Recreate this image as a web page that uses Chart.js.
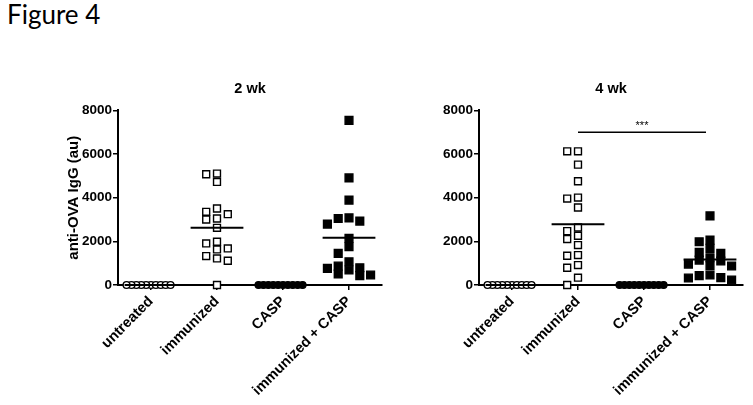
<!DOCTYPE html>
<html>
<head>
<meta charset="utf-8">
<script src="https://cdn.jsdelivr.net/npm/chart.js@4"></script>
<style>
  body { margin: 0; background: #fff; width: 753px; height: 405px; overflow: hidden; position: relative; }
  #fig { position: absolute; left: 7px; top: -2px; font-family: Lato, sans-serif; font-size: 26px; color: #000; }
  .panel { position: absolute; top: 0; height: 405px; }
  #p1 { left: 0; width: 395px; }
  #p2 { left: 395px; width: 358px; }
</style>
</head>
<body>
<div id="fig">Figure 4</div>
<div class="panel" id="p1"><canvas id="c1"></canvas></div>
<div class="panel" id="p2"><canvas id="c2"></canvas></div>
<script>
// Groups and axis
const groups = ['untreated', 'immunized', 'CASP', 'immunized + CASP'];
const yTicks = [0, 2000, 4000, 6000, 8000];

// 2 wk values (au)
const wk2Untreated = [0, 0, 0, 0, 0, 0, 0, 0, 0, 0];
const wk2Immunized = [5105, 5074, 4724, 3504, 3352, 3245, 3047, 3002, 2621, 1981, 1904, 1676, 1630, 1325, 1219, 1112, 0];
const wk2Casp = [0, 0, 0, 0, 0, 0, 0, 0, 0, 0];
const wk2ImmCasp = [7543, 4906, 3886, 3078, 3047, 2926, 2788, 2133, 1752, 1447, 1066, 868, 792, 762, 686, 503, 457, 427];

// 4 wk values (au)
const wk4Untreated = [0, 0, 0, 0, 0, 0, 0, 0, 0, 0];
const wk4Immunized = [6125, 6125, 5515, 4754, 4007, 3961, 3550, 2636, 2468, 2255, 2103, 1828, 1371, 1341, 914, 792, 335, 0];
const wk4Casp = [0, 0, 0, 0, 0, 0, 0, 0, 0, 0];
const wk4ImmCasp = [3170, 2057, 1981, 1676, 1494, 1447, 1250, 1143, 1100, 960, 883, 870, 457, 427, 335, 320, 229];

// significance bars
const wk4Sig = [{ from: 1, to: 3, y: 7000, text: '***' }];

const FONT = "'Liberation Sans', Arial, sans-serif";

// marker look per group: open circle, open square, filled circle, filled square
const markers = [
    { pointStyle: 'circle', radius: 3.4, fill: '#fff' },
    { pointStyle: 'rect', radius: 4.9, fill: '#fff' },
    { pointStyle: 'circle', radius: 3.4, fill: '#000' },
    { pointStyle: 'rect', radius: 5.5, fill: '#000' }
];

function mean(arr) {
    return arr.reduce((a, b) => a + b, 0) / arr.length;
}

function buildDatasets(series) {
    const sets = series.map((vals, gi) => ({
        group: gi,
        data: vals.map(v => ({ x: gi, y: v })),
        pointStyle: markers[gi].pointStyle,
        pointRadius: markers[gi].radius,
        pointHoverRadius: markers[gi].radius,
        pointBackgroundColor: markers[gi].fill,
        pointBorderColor: '#000',
        pointBorderWidth: 1.4,
        showLine: false,
        clip: false,
        order: 1
    }));

    // mean bars
    const meanData = [];
    series.forEach((vals, gi) => {
        const m = mean(vals);
        meanData.push({ x: gi - 0.4, y: m }, { x: gi + 0.4, y: m }, { x: gi + 0.4, y: null });
    });
    sets.push({
        data: meanData,
        showLine: true,
        spanGaps: false,
        borderColor: '#000',
        borderWidth: 2,
        pointRadius: 0,
        clip: false,
        order: 0
    });
    return sets;
}

// spread points sideways so they don't overlap (like a column scatter)
function spreadPoints(chart) {
    const xs = chart.scales.x, ys = chart.scales.y;
    const unit = xs.getPixelForValue(1) - xs.getPixelForValue(0);
    const gapPx = 7.5, slotPx = 10.8, maxWidthPx = 44;
    chart.data.datasets.forEach(ds => {
        if (ds.group === undefined) return;
        const pts = ds.data.map((p, i) => ({ i: i, py: ys.getPixelForValue(p.y) }));
        pts.sort((a, b) => a.py - b.py);
        const placed = [];
        pts.forEach(p => {
            for (let k = 0; k < 40; k++) {
                const slot = k % 2 ? -(k + 1) / 2 : k / 2;
                const hit = placed.some(q => q.slot === slot && Math.abs(q.py - p.py) < gapPx);
                if (!hit) {
                    p.slot = slot;
                    placed.push(p);
                    break;
                }
            }
        });
        const slots = placed.map(p => p.slot);
        const span = Math.max(...slots) - Math.min(...slots);
        const step = span ? Math.min(slotPx, maxWidthPx / span) : slotPx;
        placed.forEach(p => {
            ds.data[p.i].x = ds.group + p.slot * step / unit;
        });
    });
    chart.update('none');
}

const sigPlugin = {
    id: 'sigBars',
    afterDatasetsDraw(chart, args, opts) {
        const items = opts.items || [];
        const ctx = chart.ctx, xs = chart.scales.x, ys = chart.scales.y;
        items.forEach(s => {
            const x1 = xs.getPixelForValue(s.from);
            const x2 = xs.getPixelForValue(s.to) - 4;
            const y = ys.getPixelForValue(s.y);
            ctx.save();
            ctx.strokeStyle = '#000';
            ctx.lineWidth = 1.5;
            ctx.beginPath();
            ctx.moveTo(x1, y);
            ctx.lineTo(x2, y);
            ctx.stroke();
            ctx.fillStyle = '#000';
            ctx.font = '11px ' + FONT;
            ctx.textAlign = 'center';
            ctx.textBaseline = 'bottom';
            ctx.fillText(s.text, (x1 + x2) / 2, y - 1);
            ctx.restore();
        });
    }
};

function makeChart(canvasId, title, yTitle, series, sig, pad, yWidth) {
    const chart = new Chart(document.getElementById(canvasId), {
        type: 'scatter',
        data: { datasets: buildDatasets(series) },
        plugins: [sigPlugin],
        options: {
            responsive: true,
            maintainAspectRatio: false,
            animation: false,
            events: [],
            layout: { padding: pad },
            plugins: {
                legend: { display: false },
                tooltip: { enabled: false },
                title: {
                    display: true,
                    text: title,
                    fullSize: false,
                    color: '#000',
                    font: { family: FONT, size: 14.5, weight: 'bold' },
                    padding: { top: 0, bottom: 13 }
                },
                sigBars: { items: sig }
            },
            scales: {
                x: {
                    type: 'linear',
                    min: -0.5,
                    max: 3.5,
                    afterBuildTicks: scale => {
                        scale.ticks = groups.map((g, i) => ({ value: i }));
                    },
                    afterFit: scale => { scale.height = 120; },
                    border: { display: true, color: '#000', width: 2 },
                    grid: { drawOnChartArea: false, color: '#000', tickLength: 5, lineWidth: 1.5 },
                    ticks: {
                        color: '#000',
                        minRotation: 45,
                        maxRotation: 45,
                        padding: 3,
                        font: { family: FONT, size: 14.5, weight: 'bold' },
                        callback: value => groups[value]
                    }
                },
                y: {
                    min: 0,
                    max: 8000,
                    afterBuildTicks: scale => {
                        scale.ticks = yTicks.map(v => ({ value: v }));
                    },
                    afterFit: scale => { scale.width = yWidth; },
                    border: { display: true, color: '#000', width: 2 },
                    grid: { drawOnChartArea: false, color: '#000', tickLength: 5, lineWidth: 1.5 },
                    title: {
                        display: !!yTitle,
                        text: yTitle,
                        color: '#000',
                        font: { family: FONT, size: 15, weight: 'bold' },
                        padding: { top: 3, bottom: 4 }
                    },
                    ticks: {
                        color: '#000',
                        padding: 1,
                        font: { family: FONT, size: 13.5, weight: 'bold' },
                        callback: value => String(value)
                    }
                }
            }
        }
    });
    spreadPoints(chart);
    return chart;
}

makeChart('c1', '2 wk', 'anti-OVA IgG (au)',
    [wk2Untreated, wk2Immunized, wk2Casp, wk2ImmCasp], [],
    { left: 62, right: 13, top: 80, bottom: 0 }, 56);

makeChart('c2', '4 wk', '',
    [wk4Untreated, wk4Immunized, wk4Casp, wk4ImmCasp], wk4Sig,
    { left: 0, right: 10, top: 80, bottom: 0 }, 84);
</script>
</body>
</html>
